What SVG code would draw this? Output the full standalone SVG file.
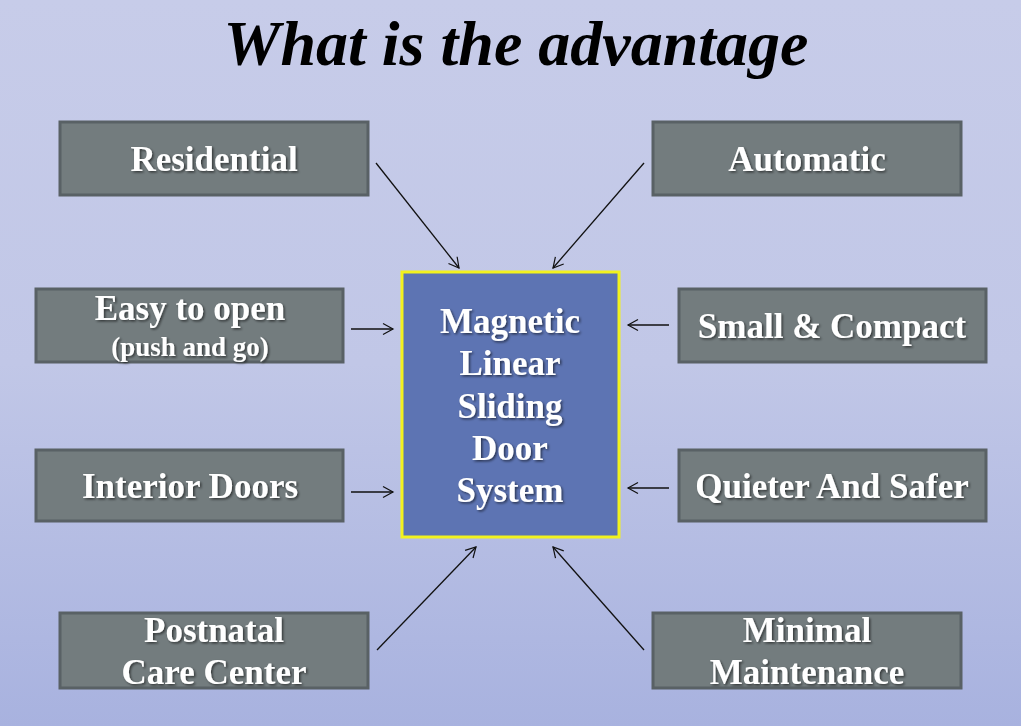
<svg xmlns="http://www.w3.org/2000/svg" width="1021" height="726" viewBox="0 0 1021 726">
<defs>
<linearGradient id="bg" x1="0" y1="0" x2="0" y2="1">
<stop offset="0" stop-color="#c7cce9"/>
<stop offset="0.5" stop-color="#c1c7e7"/>
<stop offset="1" stop-color="#a8b2df"/>
</linearGradient>
<filter id="sh" x="-10%" y="-10%" width="120%" height="130%">
<feDropShadow dx="1.5" dy="1.5" stdDeviation="0.8" flood-color="#000" flood-opacity="0.55"/>
</filter>
<marker id="ah" markerWidth="14" markerHeight="14" refX="11" refY="7" orient="auto" markerUnits="userSpaceOnUse">
<path d="M1,1.5 L11,7 L1,12.5" fill="none" stroke="#111" stroke-width="1.2"/>
</marker>
</defs>
<style>
.box{fill:#737c7e;stroke:#596165;stroke-width:3}
.lbl{font-family:"Liberation Serif",serif;font-weight:bold;font-size:35px;fill:#fff;text-anchor:middle;filter:url(#sh)}
.sm{font-size:27px}
.conn line{stroke:#111;stroke-width:1.3;marker-end:url(#ah)}
</style>
<rect width="1021" height="726" fill="url(#bg)"/>
<text x="516" y="65" font-family="'Liberation Serif',serif" font-style="italic" font-weight="bold" font-size="64" text-anchor="middle" fill="#000">What is the advantage</text>
<g id="center">
<rect x="402" y="272" width="217" height="265" fill="#5d74b3" stroke="#f2f21e" stroke-width="3"/>
<text class="lbl" x="510" y="333" font-size="36">Magnetic</text>
<text class="lbl" x="510" y="375">Linear</text>
<text class="lbl" x="510" y="418">Sliding</text>
<text class="lbl" x="510" y="460">Door</text>
<text class="lbl" x="510" y="502">System</text>
</g>
<g id="residential"><rect class="box" x="60" y="122" width="308" height="73"/><text class="lbl" x="214" y="171">Residential</text></g>
<g id="automatic"><rect class="box" x="653" y="122" width="308" height="73"/><text class="lbl" x="807" y="171">Automatic</text></g>
<g id="easy"><rect class="box" x="36" y="289" width="307" height="73"/><text class="lbl" x="190" y="320">Easy to open</text><text class="lbl sm" x="190" y="356">(push and go)</text></g>
<g id="small"><rect class="box" x="679" y="289" width="307" height="73"/><text class="lbl" x="832" y="338">Small &amp; Compact</text></g>
<g id="interior"><rect class="box" x="36" y="450" width="307" height="71"/><text class="lbl" x="190" y="498">Interior Doors</text></g>
<g id="quieter"><rect class="box" x="679" y="450" width="307" height="71"/><text class="lbl" x="832" y="498">Quieter And Safer</text></g>
<g id="postnatal"><rect class="box" x="60" y="613" width="308" height="75"/><text class="lbl" x="214" y="642">Postnatal</text><text class="lbl" x="214" y="684">Care Center</text></g>
<g id="minimal"><rect class="box" x="653" y="613" width="308" height="75"/><text class="lbl" x="807" y="642">Minimal</text><text class="lbl" x="807" y="684">Maintenance</text></g>
<g id="connectors" class="conn">
<line x1="376" y1="163" x2="459" y2="268"/>
<line x1="644" y1="163" x2="553" y2="268"/>
<line x1="351" y1="329" x2="393" y2="329"/>
<line x1="669" y1="325" x2="628" y2="325"/>
<line x1="351" y1="492" x2="393" y2="492"/>
<line x1="669" y1="488" x2="628" y2="488"/>
<line x1="377" y1="650" x2="476" y2="547"/>
<line x1="644" y1="650" x2="553" y2="547"/>
</g>
</svg>
